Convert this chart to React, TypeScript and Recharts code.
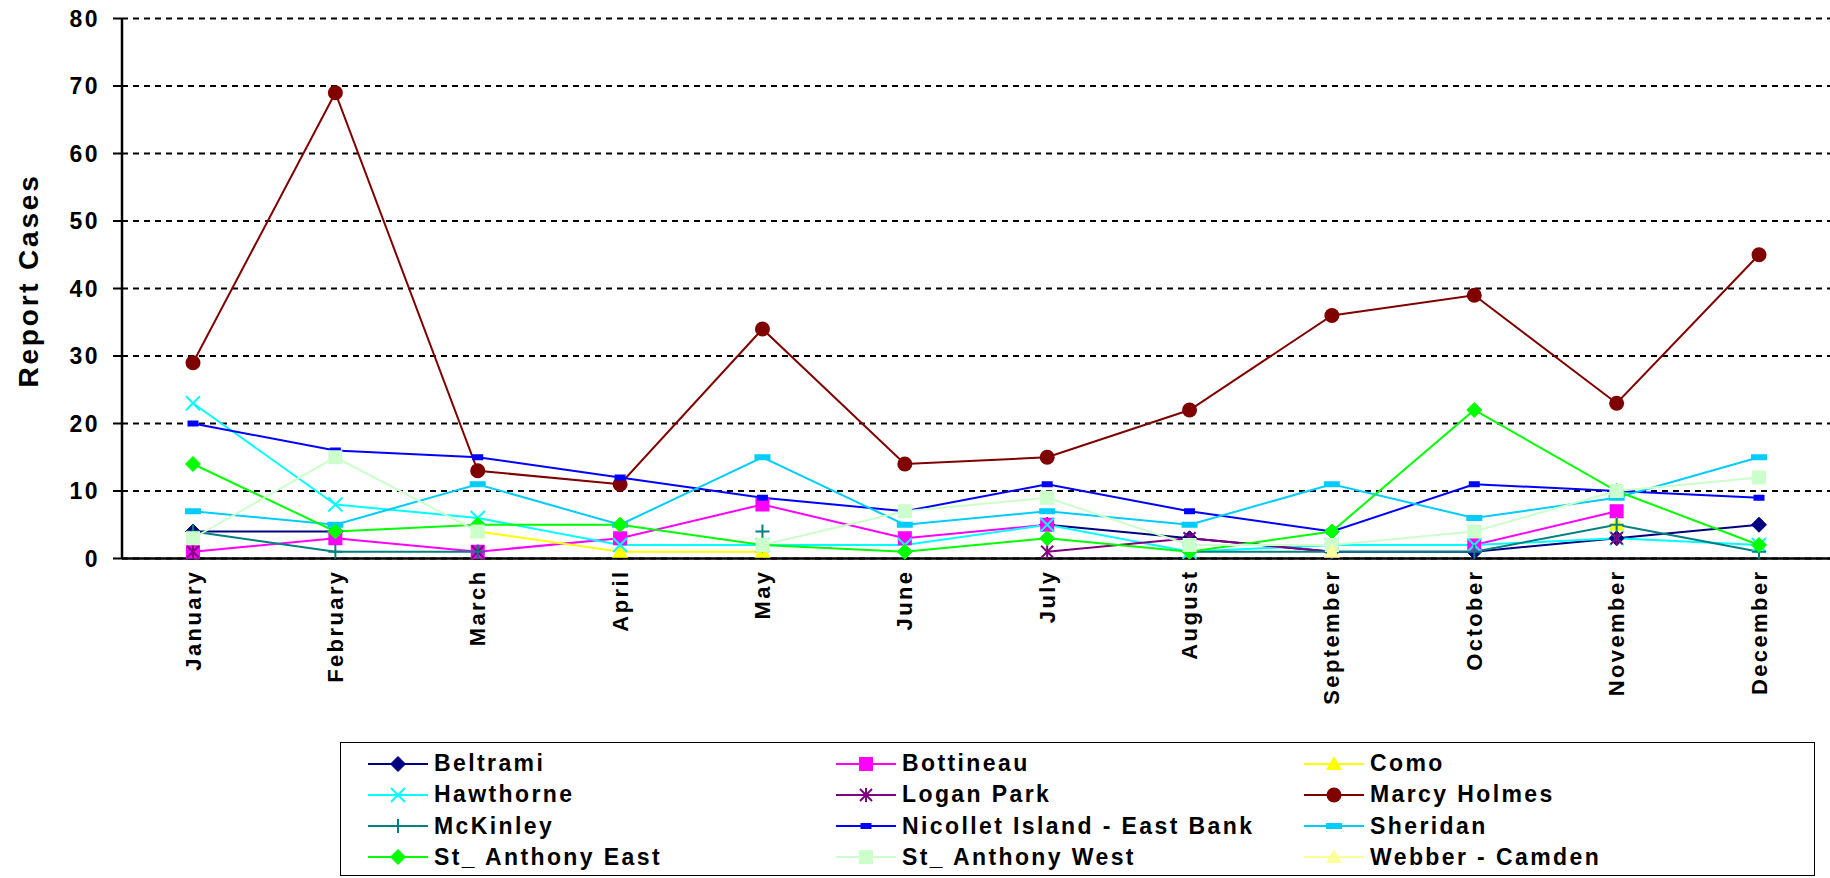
import React from "react";
import { LineChart, Line, XAxis, YAxis, CartesianGrid } from "recharts";

const months = [
  "January", "February", "March", "April", "May", "June",
  "July", "August", "September", "October", "November", "December",
];
const yTicks = [0, 10, 20, 30, 40, 50, 60, 70, 80];

const beltrami = [4, 4, null, null, null, null, 5, 3, 1, 1, 3, 5];
const bottineau = [1, 3, 1, 3, 8, 3, 5, null, 2, 2, 7, null];
const como = [null, null, 4, 1, 1, null, null, null, null, null, 5, null];
const hawthorne = [23, 8, 6, 2, 2, 2, 5, 1, 2, 2, 3, 2];
const loganPark = [1, null, 1, null, null, null, 1, 3, 1, null, 3, null];
const marcyHolmes = [29, 69, 13, 11, 34, 14, 15, 22, 36, 39, 23, 45];
const mcKinley = [4, 1, 1, null, 4, null, null, 1, 1, 1, 5, 1];
const nicollet = [20, 16, 15, 12, 9, 7, 11, 7, 4, 11, 10, 9];
const sheridan = [7, 5, 11, 5, 15, 5, 7, 5, 11, 6, 9, 15];
const stAnthonyEast = [14, 4, 5, 5, 2, 1, 3, 1, 4, 22, 10, 2];
const stAnthonyWest = [3, 15, 4, null, 2, 7, 9, 2, 2, 4, 10, 12];
const webberCamden = [null, null, null, null, null, null, null, null, 1, null, null, null];

type Shape = "diamond" | "square" | "triangle" | "x" | "star" | "circle" | "plus" | "dash" | "bar";

const series: { key: string; name: string; values: (number | null)[]; color: string; shape: Shape }[] = [
  { key: "s1", name: "Beltrami", values: beltrami, color: "#000080", shape: "diamond" },
  { key: "s2", name: "Bottineau", values: bottineau, color: "#FF00FF", shape: "square" },
  { key: "s3", name: "Como", values: como, color: "#FFFF00", shape: "triangle" },
  { key: "s4", name: "Hawthorne", values: hawthorne, color: "#00FFFF", shape: "x" },
  { key: "s5", name: "Logan Park", values: loganPark, color: "#800080", shape: "star" },
  { key: "s6", name: "Marcy Holmes", values: marcyHolmes, color: "#800000", shape: "circle" },
  { key: "s7", name: "McKinley", values: mcKinley, color: "#008080", shape: "plus" },
  { key: "s8", name: "Nicollet Island - East Bank", values: nicollet, color: "#0000FF", shape: "dash" },
  { key: "s9", name: "Sheridan", values: sheridan, color: "#00CCFF", shape: "bar" },
  { key: "s10", name: "St_ Anthony East", values: stAnthonyEast, color: "#00FF00", shape: "diamond" },
  { key: "s11", name: "St_ Anthony West", values: stAnthonyWest, color: "#CCFFCC", shape: "square" },
  { key: "s12", name: "Webber - Camden", values: webberCamden, color: "#FFFF99", shape: "triangle" },
];

const data = months.map((m, i) => {
  const row: Record<string, string | number | null> = { month: m };
  series.forEach((s) => {
    row[s.key] = s.values[i];
  });
  return row;
});

const FONT = '"Liberation Sans", Arial, sans-serif';

function Marker({ shape, color, cx, cy }: { shape: Shape; color: string; cx: number; cy: number }) {
  switch (shape) {
    case "diamond": {
      const r = 7.5;
      return <polygon points={`${cx},${cy - r} ${cx + r},${cy} ${cx},${cy + r} ${cx - r},${cy}`} fill={color} stroke={color} />;
    }
    case "square":
      return <rect x={cx - 7} y={cy - 7} width={14} height={14} fill={color} />;
    case "triangle":
      return <polygon points={`${cx},${cy - 8} ${cx + 8},${cy + 6} ${cx - 8},${cy + 6}`} fill={color} />;
    case "x":
      return (
        <g stroke={color} strokeWidth={2}>
          <line x1={cx - 7} y1={cy - 7} x2={cx + 7} y2={cy + 7} />
          <line x1={cx - 7} y1={cy + 7} x2={cx + 7} y2={cy - 7} />
        </g>
      );
    case "star":
      return (
        <g stroke={color} strokeWidth={2}>
          <line x1={cx - 6} y1={cy - 6} x2={cx + 6} y2={cy + 6} />
          <line x1={cx - 6} y1={cy + 6} x2={cx + 6} y2={cy - 6} />
          <line x1={cx} y1={cy - 7} x2={cx} y2={cy + 7} />
        </g>
      );
    case "circle":
      return <circle cx={cx} cy={cy} r={7.5} fill={color} />;
    case "plus":
      return (
        <g stroke={color} strokeWidth={2}>
          <line x1={cx - 7} y1={cy} x2={cx + 7} y2={cy} />
          <line x1={cx} y1={cy - 7} x2={cx} y2={cy + 7} />
        </g>
      );
    case "dash":
      return <rect x={cx - 5.5} y={cy - 3} width={11} height={6} fill={color} />;
    case "bar":
      return <rect x={cx - 8} y={cy - 3} width={16} height={6} fill={color} />;
  }
  return null;
}

function XTick(props: any) {
  const { x, y, payload } = props;
  return (
    <text
      x={x}
      y={y}
      transform={`rotate(-90, ${x}, ${y})`}
      textAnchor="end"
      dominantBaseline="central"
      fontFamily={FONT}
      fontWeight="bold"
      fontSize={22}
      letterSpacing={2.4}
      fill="#000"
    >
      {payload.value}
    </text>
  );
}

function YTick(props: any) {
  const { x, y, payload } = props;
  return (
    <text
      x={x}
      y={y}
      textAnchor="end"
      dominantBaseline="central"
      fontFamily={FONT}
      fontWeight="bold"
      fontSize={23}
      letterSpacing={2.4}
      fill="#000"
    >
      {payload.value}
    </text>
  );
}

function Legend() {
  return (
    <div
      style={{
        position: "absolute",
        left: 340,
        top: 742,
        width: 1475,
        height: 134,
        border: "1.5px solid #000",
        boxSizing: "border-box",
        fontFamily: FONT,
        fontWeight: "bold",
        fontSize: 23,
        letterSpacing: 2.4,
        color: "#000",
      }}
    >
      {series.map((s, i) => {
        const col = i % 3;
        const row = Math.floor(i / 3);
        return (
          <div
            key={s.key}
            style={{
              position: "absolute",
              left: 27 + col * 468,
              top: 5 + row * 31.3,
              height: 31,
              display: "flex",
              alignItems: "center",
              whiteSpace: "nowrap",
            }}
          >
            <svg width={60} height={20} style={{ marginRight: 6 }}>
              <line x1={0} y1={10} x2={60} y2={10} stroke={s.color} strokeWidth={2} />
              <Marker shape={s.shape} color={s.color} cx={30} cy={10} />
            </svg>
            <span>{s.name}</span>
          </div>
        );
      })}
    </div>
  );
}

export default function App() {
  return (
    <div style={{ position: "absolute", left: 0, top: 0, width: 1830, height: 878, background: "#fff" }}>
      <LineChart
        width={1830}
        height={878}
        data={data}
        margin={{ top: 18.5, right: 0, bottom: 199.5, left: 22 }}
      >
        <CartesianGrid vertical={false} stroke="#000" strokeWidth={2} strokeDasharray="6 5" />
        <XAxis
          dataKey="month"
          height={120}
          padding={{ left: 71, right: 71 }}
          interval={0}
          tick={<XTick />}
          tickLine={false}
          tickMargin={5}
          axisLine={{ stroke: "#000", strokeWidth: 2.5 }}
        />
        <YAxis
          width={100}
          domain={[0, 80]}
          ticks={yTicks}
          interval={0}
          tick={<YTick />}
          tickSize={9}
          tickMargin={13}
          tickLine={{ stroke: "#000", strokeWidth: 2 }}
          axisLine={{ stroke: "#000", strokeWidth: 2.5 }}
          label={{
            content: (p: any) => {
              const vb = p.viewBox || { x: 22, y: 18.5, width: 100, height: 540 };
              const cx = vb.x + 6;
              const cy = vb.y + vb.height / 2 - 8;
              return (
                <text
                  x={cx}
                  y={cy}
                  transform={`rotate(-90, ${cx}, ${cy})`}
                  textAnchor="middle"
                  dominantBaseline="central"
                  fontFamily={FONT}
                  fontWeight="bold"
                  fontSize={28}
                  letterSpacing={2.8}
                  fill="#000"
                >
                  Report Cases
                </text>
              );
            },
          }}
        />
        {series.map((s) => (
          <Line
            key={s.key}
            dataKey={s.key}
            name={s.name}
            type="linear"
            stroke={s.color}
            strokeWidth={2}
            isAnimationActive={false}
            activeDot={false}
            connectNulls={false}
            dot={(p: any) => {
              if (p.value == null || p.cy == null || isNaN(p.cy)) return <g key={`${s.key}-${p.index}`} />;
              return (
                <g key={`${s.key}-${p.index}`}>
                  <Marker shape={s.shape} color={s.color} cx={p.cx} cy={p.cy} />
                </g>
              );
            }}
          />
        ))}
      </LineChart>
      <Legend />
    </div>
  );
}
